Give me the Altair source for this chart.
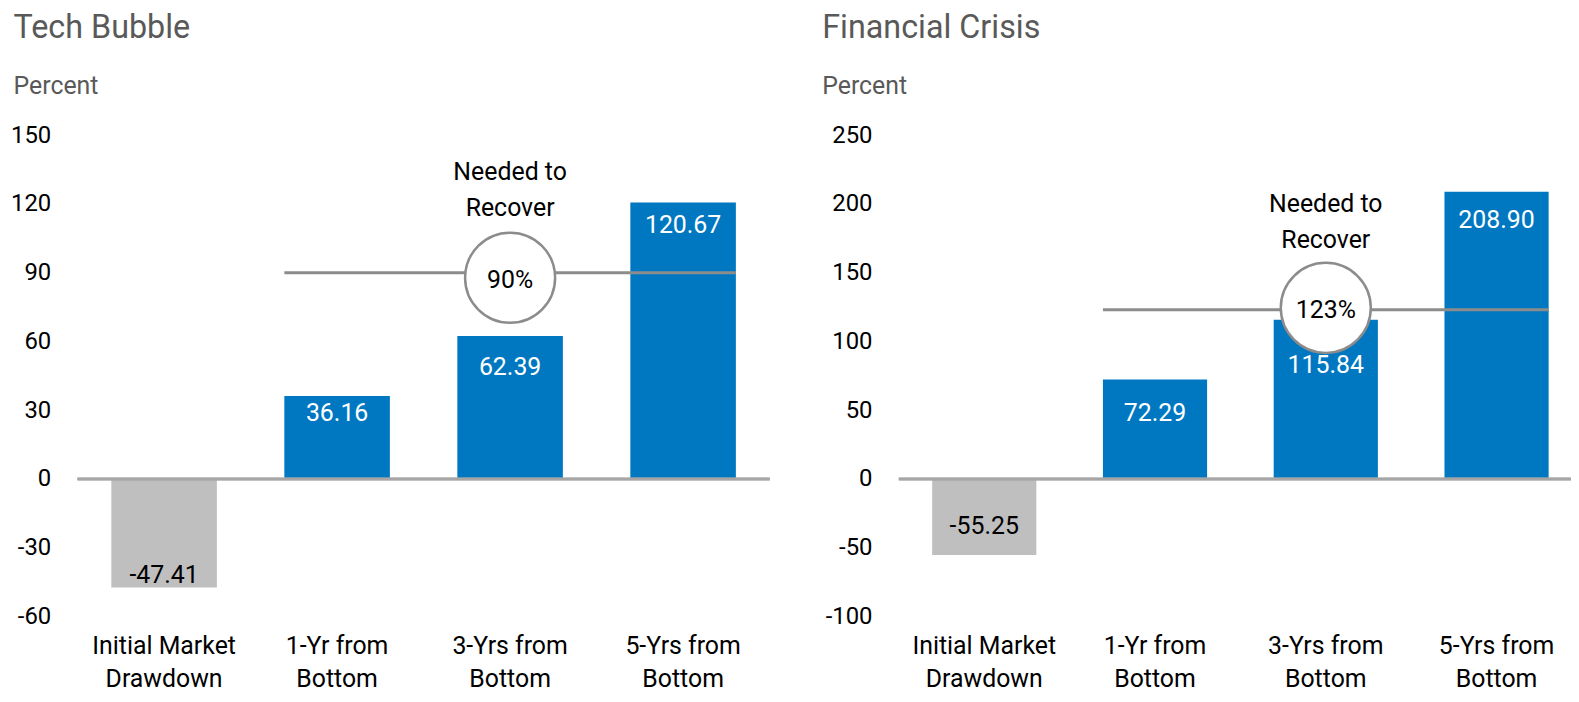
import altair as alt
import pandas as pd

categories = ["Initial Market\nDrawdown", "1-Yr from\nBottom", "3-Yrs from\nBottom", "5-Yrs from\nBottom"]
tech_values = [-47.41, 36.16, 62.39, 120.67]
crisis_values = [-55.25, 72.29, 115.84, 208.90]
tech_recover = 90
crisis_recover = 123
tech_ticks = [-60, -30, 0, 30, 60, 90, 120, 150]
crisis_ticks = [-100, -50, 0, 50, 100, 150, 200, 250]
recover_caption = "Needed to\nRecover"

FONT = "Roboto"
BLUE = "#0078c1"
GREY_BAR = "#bfbfbf"
LINE = "#8c8c8c"


def panel(title, values, recover, ticks, width, style):
    df = pd.DataFrame({"cat": categories, "value": values,
                       "label": [f"{v:.2f}" for v in values]})
    ref = pd.DataFrame({"start": [categories[1]], "end": [categories[3]],
                        "mid": [categories[2]], "y": [recover],
                        "pct": [f"{recover}%"], "cap": [recover_caption]})
    xscale = alt.Scale(domain=categories, paddingInner=0.39, paddingOuter=0.195)
    yscale = alt.Scale(domain=[ticks[0], ticks[-1]], nice=False)
    xaxis = alt.Axis(title=None, labelAngle=0, labelFontSize=25, labelColor="#000",
                     labelLineHeight=33.5, labelPadding=17, ticks=False, domain=False,
                     labelExpr="split(datum.label, '\\n')")
    yaxis = alt.Axis(title=None, values=ticks, labelFontSize=24, labelColor="#000",
                     labelPadding=27, ticks=False, domain=False, grid=False,
                     labelExpr="replace(datum.label, '\u2212', '-')")

    base = alt.Chart(df)
    bars = base.mark_bar().encode(
        x=alt.X("cat:N", scale=xscale, axis=xaxis, sort=categories),
        y=alt.Y("value:Q", scale=yscale, axis=yaxis),
        color=alt.condition(alt.datum.value < 0, alt.value(GREY_BAR), alt.value(BLUE)),
    )
    zero = base.mark_rule(color="#a6a6a6", strokeWidth=2.5).encode(y=alt.datum(0))

    value_labels = []
    for cat, val, dy in zip(categories, values, style["label_dy"]):
        value_labels.append(
            base.transform_filter(alt.datum.cat == cat).mark_text(
                fontSize=25, color="white" if val >= 0 else "#000",
                baseline="middle", dy=dy).encode(
                x=alt.X("cat:N", sort=categories), y="value:Q", text="label:N"))

    rbase = alt.Chart(ref)
    rline = rbase.mark_rule(color=LINE, strokeWidth=3).encode(
        x=alt.X("start:N", bandPosition=0, sort=categories),
        x2=alt.X2("end", bandPosition=1),
        y="y:Q")
    circle = rbase.mark_point(shape="circle", filled=False, fill="white", fillOpacity=1,
                              stroke=LINE, strokeWidth=2.5, size=8200, opacity=1).encode(
        x=alt.X("mid:N", sort=categories), y="y:Q", yOffset=alt.value(style["circ_dy"]))
    pct = rbase.mark_text(fontSize=25, color="#000", baseline="middle",
                          dy=style["circ_dy"] + 2).encode(
        x=alt.X("mid:N", sort=categories), y="y:Q", text="pct:N")
    cap = rbase.mark_text(fontSize=25, color="#000", baseline="middle", lineBreak="\n",
                          lineHeight=36, dy=style["cap_dy"]).encode(
        x=alt.X("mid:N", sort=categories), y="y:Q", text="cap:N")

    return alt.layer(bars, *value_labels, zero, rline, circle, pct, cap).properties(
        width=width, height=484,
        title=alt.TitleParams(text=title, subtitle="Percent", anchor="start", frame="bounds",
                              fontSize=32.5, fontWeight="normal", color="#595959",
                              subtitleFontSize=25, subtitleColor="#595959",
                              subtitlePadding=29.75, offset=24.75, dx=style["title_dx"]),
    )


left_style = {"label_dy": [-13, 17, 31.5, 23], "circ_dy": 5, "cap_dy": -101, "title_dx": 3}
right_style = {"label_dy": [-29, 34, 46, 28.5], "circ_dy": -2, "cap_dy": -106, "title_dx": -3}

chart = alt.hconcat(
    panel("Tech Bubble", tech_values, tech_recover, tech_ticks, 696, left_style),
    panel("Financial Crisis", crisis_values, crisis_recover, crisis_ticks, 687, right_style),
    spacing=50,
).properties(
    padding={"left": 2, "top": 2, "right": -13, "bottom": 0}
).configure(font=FONT).configure_view(stroke=None)

chart.save("out.html", embed_options={"renderer": "svg", "actions": False})
